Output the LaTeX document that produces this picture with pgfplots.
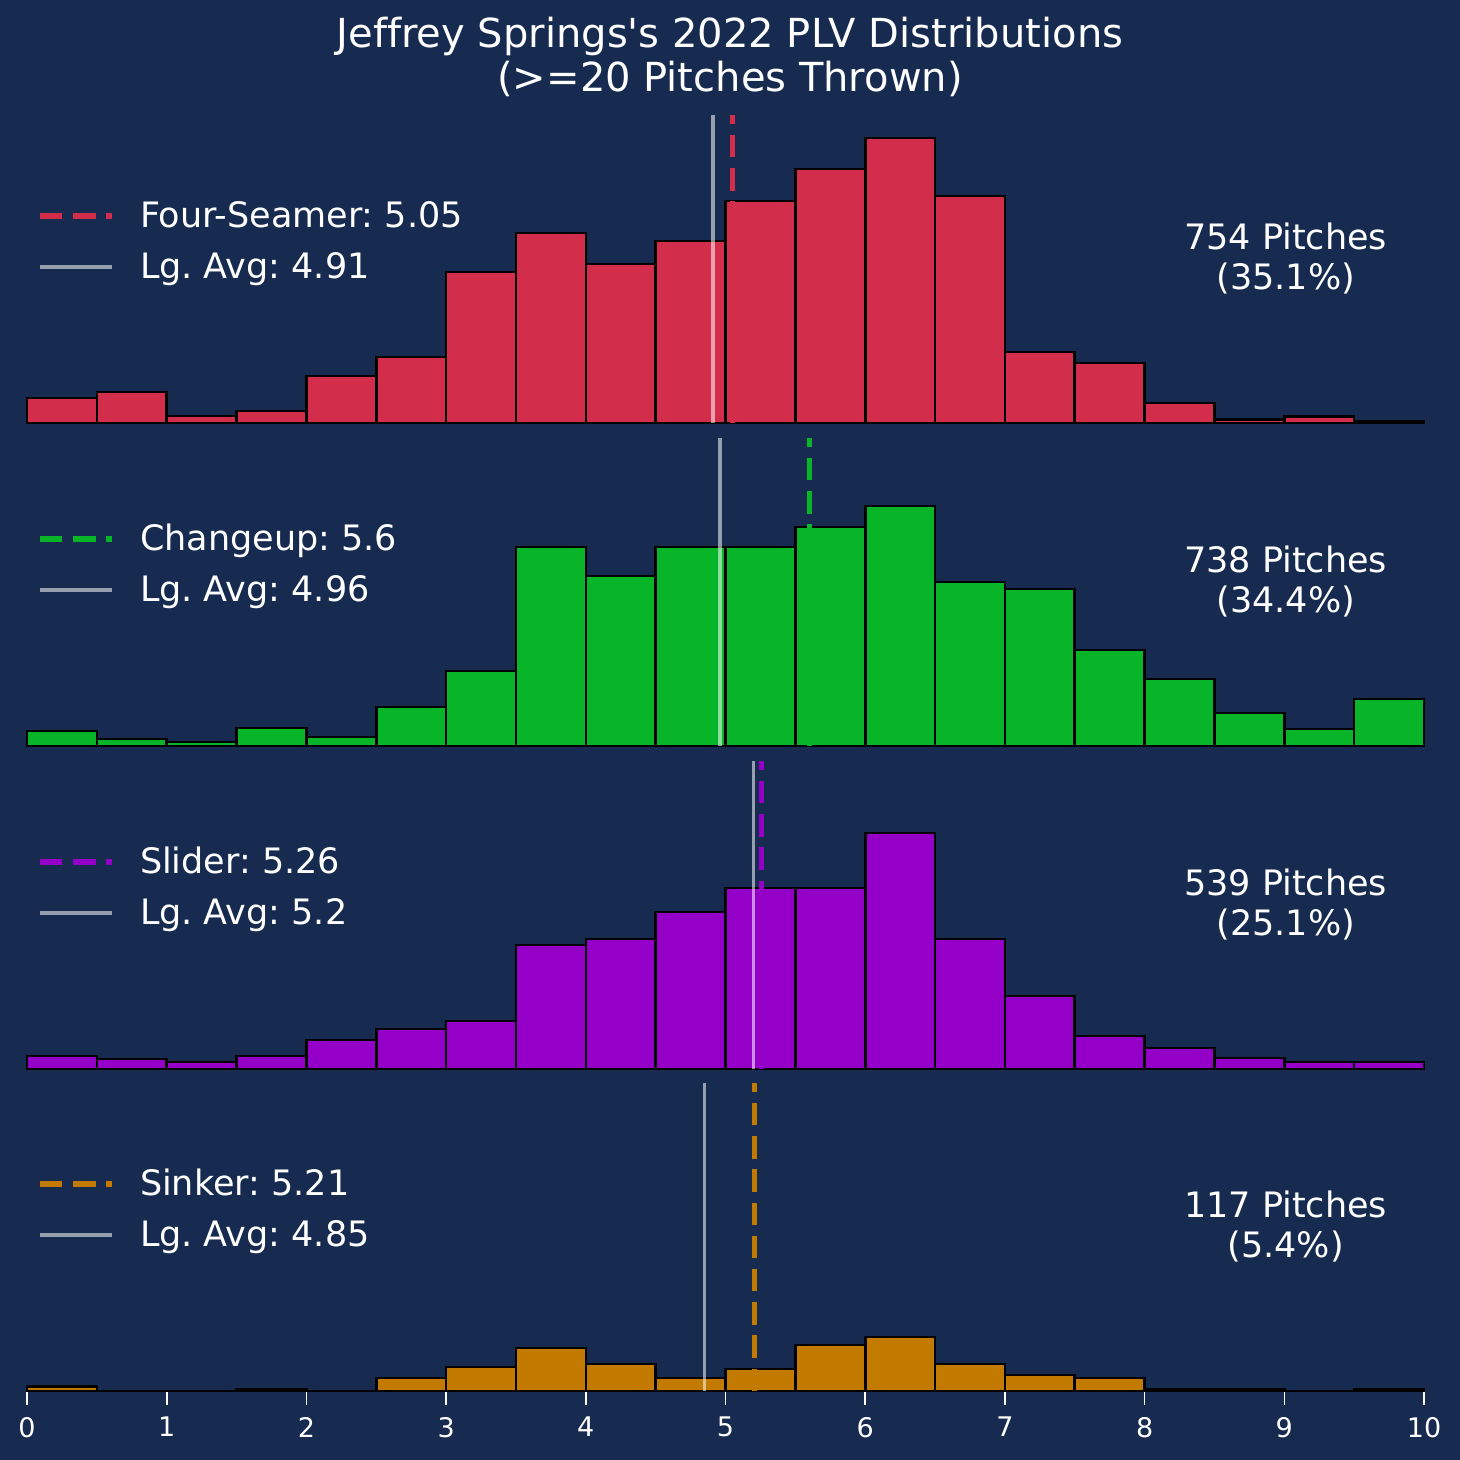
\documentclass[border=0pt]{standalone}
\usepackage{fontspec}
\setmainfont{DejaVu Sans}[Ligatures={TeXOff,NoCommon}]
\usepackage{pgfplots}
\pgfplotsset{compat=1.18}
\frenchspacing
\definecolor{bg}{RGB}{23,43,80}
\definecolor{fsred}{RGB}{210,45,74}
\definecolor{chgreen}{RGB}{8,180,40}
\definecolor{slpurple}{RGB}{148,0,200}
\definecolor{siorange}{RGB}{194,123,0}
\newcommand{\bigfont}{\fontsize{17.5}{21}\selectfont}
\newcommand{\titlefont}{\fontsize{20}{24}\selectfont}
\pgfplotsset{
  panel/.style={
    scale only axis, width=698.5pt, height=154pt,
    xmin=0, xmax=10, ymin=0, ymax=308,
    axis line style={draw=none},
    ytick=\empty, xtick=\empty,
    clip=false,
    anchor=south west,
    legend cell align=left,
    legend style={draw=none, fill=none, text=white, font=\bigfont,
      at={(0,1)}, anchor=north west, xshift=5.2pt, yshift=-42.35pt,
      inner sep=0pt, outer sep=0pt, row sep=9.2pt,
      nodes={inner sep=0pt, outer sep=0pt, text height=14pt, text depth=2.3pt}},
    legend image code/.code={\draw[##1] (0pt,0pt) -- (36pt,0pt); \path[draw=none,fill=none] (0pt,0pt) -- (50pt,0pt);},
  },
  bars/.style={ybar interval, fill=#1, draw=black, line width=1.3pt, forget plot},
  mean/.style={draw=#1, line width=2.6pt, dash pattern=on 11.2pt off 5.4pt},
  lg/.style={draw=white, draw opacity=0.55, line width=1.65pt},
}
\begin{document}
\begin{tikzpicture}
\path[use as bounding box, fill=bg] (0pt,0pt) rectangle (730pt,730pt);
\node[text=white, font=\titlefont, anchor=base] at (365pt,706pt) {Jeffrey Springs's 2022 PLV Distributions};
\node[text=white, font=\titlefont, anchor=base] at (365pt,684pt) {(>=20 Pitches Thrown)};

% Panel 1: Four-Seamer
\begin{axis}[panel, at={(13.5pt,518.5pt)}]
\addplot[bars=fsred] coordinates {(0,25) (0.5,31) (1,7) (1.5,12) (2,47) (2.5,66) (3,151) (3.5,190) (4,159) (4.5,182) (5,222) (5.5,254) (6,285) (6.5,227) (7,71) (7.5,60) (8,20) (8.5,3.5) (9,6.5) (9.5,1.5) (10,1.5)};
\addplot[mean=fsred] coordinates {(5.05,0) (5.05,308)};
\addlegendentry{Four-Seamer: 5.05}
\addplot[lg] coordinates {(4.91,0) (4.91,308)};
\addlegendentry{Lg. Avg: 4.91}
\node[text=white, font=\bigfont, anchor=base] at (axis cs:9.01,173) {754 Pitches};
\node[text=white, font=\bigfont, anchor=base] at (axis cs:9.01,133.7) {(35.1\%)};
\end{axis}

% Panel 2: Changeup
\begin{axis}[panel, at={(13.5pt,357pt)}]
\addplot[bars=chgreen] coordinates {(0,15) (0.5,7) (1,4) (1.5,18) (2,9) (2.5,39) (3,75) (3.5,199) (4,170) (4.5,199) (5,199) (5.5,219) (6,240) (6.5,164) (7,157) (7.5,96) (8,67) (8.5,33) (9,17) (9.5,47) (10,47)};
\addplot[mean=chgreen] coordinates {(5.6,0) (5.6,308)};
\addlegendentry{Changeup: 5.6}
\addplot[lg] coordinates {(4.96,0) (4.96,308)};
\addlegendentry{Lg. Avg: 4.96}
\node[text=white, font=\bigfont, anchor=base] at (axis cs:9.01,173) {738 Pitches};
\node[text=white, font=\bigfont, anchor=base] at (axis cs:9.01,133.7) {(34.4\%)};
\end{axis}

% Panel 3: Slider
\begin{axis}[panel, at={(13.5pt,195.5pt)}]
\addplot[bars=slpurple] coordinates {(0,13) (0.5,10) (1,7) (1.5,13) (2,29) (2.5,40) (3,48) (3.5,124) (4,130) (4.5,157) (5,181) (5.5,181) (6,236) (6.5,130) (7,73) (7.5,33) (8,21) (8.5,11) (9,7) (9.5,7) (10,7)};
\addplot[mean=slpurple] coordinates {(5.26,0) (5.26,308)};
\addlegendentry{Slider: 5.26}
\addplot[lg] coordinates {(5.2,0) (5.2,308)};
\addlegendentry{Lg. Avg: 5.2}
\node[text=white, font=\bigfont, anchor=base] at (axis cs:9.01,173) {539 Pitches};
\node[text=white, font=\bigfont, anchor=base] at (axis cs:9.01,133.7) {(25.1\%)};
\end{axis}

% Panel 4: Sinker
\begin{axis}[panel, at={(13.5pt,34.5pt)},
  xtick={0,1,...,10}, xtick pos=bottom, tick align=outside,
  major tick length=7pt,
  xtick style={draw=white, line width=0.8pt},
  xticklabel style={text=white, font=\fontsize{13.5}{16}\selectfont, yshift=-2.5pt},
  /pgf/number format/assume math mode=true]
\addplot[bars=siorange] coordinates {(0,4.3) (0.5,0) (1,0) (1.5,1.7) (2,0) (2.5,13) (3,24) (3.5,43) (4,27) (4.5,13) (5,22) (5.5,46) (6,54) (6.5,27) (7,16) (7.5,13) (8,1.7) (8.5,1.7) (9,0) (9.5,1.7) (10,1.7)};
\addplot[mean=siorange] coordinates {(5.21,0) (5.21,308)};
\addlegendentry{Sinker: 5.21}
\addplot[lg] coordinates {(4.85,0) (4.85,308)};
\addlegendentry{Lg. Avg: 4.85}
\node[text=white, font=\bigfont, anchor=base] at (axis cs:9.01,173) {117 Pitches};
\node[text=white, font=\bigfont, anchor=base] at (axis cs:9.01,133.7) {(5.4\%)};
\end{axis}
\end{tikzpicture}
\end{document}
